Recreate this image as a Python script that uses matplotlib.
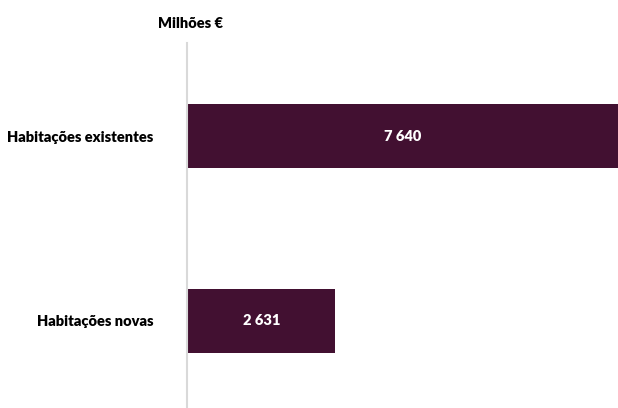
import matplotlib.pyplot as plt

# data
categories = ["Habitações novas", "Habitações existentes"]
values = [2631, 7640]
value_labels = ["2 631", "7 640"]
unit_label = "Milhões €"

bar_color = "#421031"
plt.rcParams['font.family'] = ['Lato', 'DejaVu Sans']

fig = plt.figure(figsize=(6.18, 4.08), dpi=100)
# axes from x=187 to 618 px, y=43 to 407 px
ax = fig.add_axes([187 / 618, 1 - 407 / 408, (618 - 187) / 618, (407 - 43) / 408])

ypos = list(range(len(categories)))
ax.barh(ypos, values, height=0.35, color=bar_color)

for y, v, lab in zip(ypos, values, value_labels):
    ax.text(v / 2, y, lab, ha='center', va='center', color='white',
            fontsize=10.5, fontweight='heavy')

ax.set_xlim(0, max(values))
ax.set_ylim(-0.465, 1.503)
ax.set_yticks(ypos)
ax.set_yticklabels(categories, fontsize=10.5, fontweight='heavy')
ax.tick_params(axis='y', length=0, pad=24)
ax.set_xticks([])

for s in ['top', 'right', 'bottom']:
    ax.spines[s].set_visible(False)
ax.spines['left'].set_color('#d9d9d9')
ax.spines['left'].set_linewidth(1.5)

fig.text(190 / 618, 1 - 23 / 408, unit_label, ha='center', va='center',
         fontsize=10.5, fontweight='heavy')

fig.savefig("out.png", dpi=100)
